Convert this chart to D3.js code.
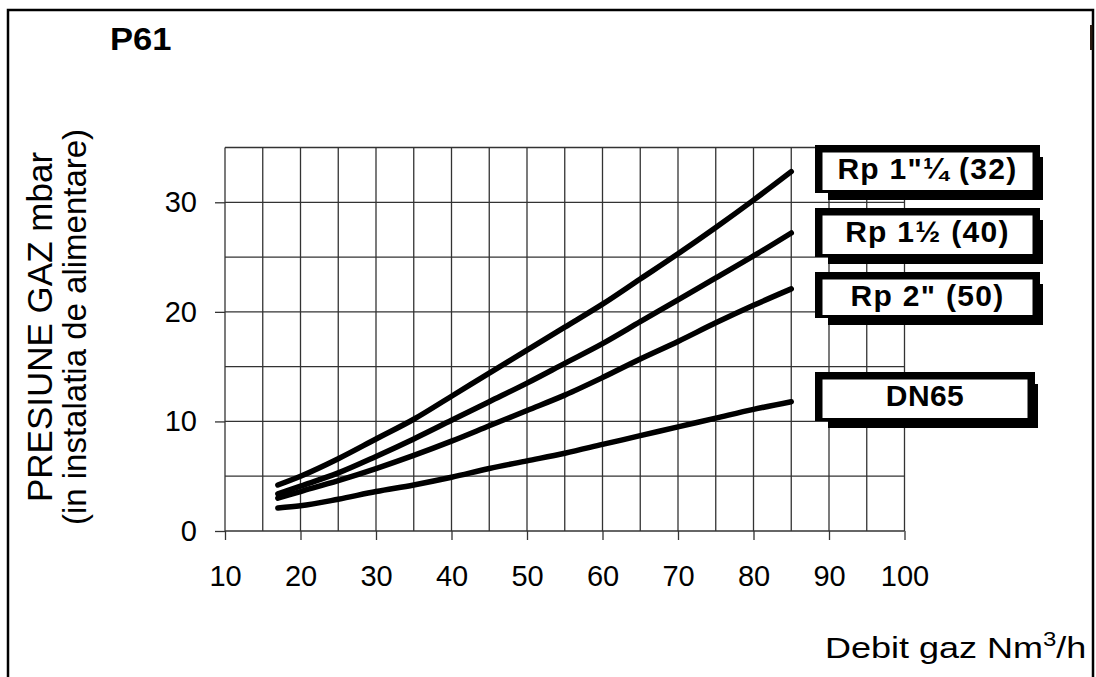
<!DOCTYPE html>
<html>
<head>
<meta charset="utf-8">
<script src="https://cdn.jsdelivr.net/npm/d3@7"></script>
<style>
  html, body { margin: 0; padding: 0; background: #fff; }
  svg { display: block; font-family: 'Liberation Sans', Arial, sans-serif; }
</style>
</head>
<body>
<svg id="chart" width="1096" height="677"></svg>
<script>
// values
const flow = [17, 20, 25, 30, 35, 40, 45, 50, 55, 60, 65, 70, 75, 80, 85];
const seriesNames = ['Rp 1"\u00BC (32)', 'Rp 1\u00BD (40)', 'Rp 2" (50)', 'DN65'];
const pRp32 = [4.2, 5.0, 6.6, 8.4, 10.2, 12.3, 14.4, 16.5, 18.6, 20.7, 23.0, 25.3, 27.7, 30.2, 32.8];
const pRp40 = [3.4, 4.1, 5.3, 6.8, 8.4, 10.1, 11.8, 13.5, 15.3, 17.1, 19.1, 21.1, 23.1, 25.1, 27.2];
const pRp50 = [3.0, 3.6, 4.6, 5.7, 6.9, 8.2, 9.6, 11.0, 12.4, 14.0, 15.7, 17.3, 19.0, 20.6, 22.1];
const pDN65 = [2.1, 2.3, 2.9, 3.6, 4.2, 4.9, 5.7, 6.4, 7.1, 7.9, 8.7, 9.5, 10.3, 11.1, 11.8];
const xTicks = [10, 20, 30, 40, 50, 60, 70, 80, 90, 100];
const yTicks = [0, 10, 20, 30];

// legend box placement (outer edge of the thick frame)
const LEGEND_BOXES = [
  { left: 815, top: 145, right: 1040, bottom: 193 },
  { left: 815, top: 208, right: 1040, bottom: 257 },
  { left: 815, top: 272, right: 1040, bottom: 318 },
  { left: 815, top: 372, right: 1035, bottom: 421 },
];
const BORDER = 7.5;

const svg = d3.select('#chart');

const x = d3.scaleLinear().domain([10, 100]).range([225, 904.5]);
const y = d3.scaleLinear().domain([0, 35]).range([531, 147.5]);

// page frame
svg.append('rect')
  .attr('x', 8).attr('y', 10)
  .attr('width', 1085).attr('height', 720)
  .attr('fill', 'none')
  .attr('stroke', '#000')
  .attr('stroke-width', 2.5);
svg.append('rect')
  .attr('x', 1090).attr('y', 25)
  .attr('width', 2.5).attr('height', 25)
  .attr('fill', '#2a1a10');

svg.append('text')
  .attr('transform', 'translate(110, 50) scale(1.08, 1)')
  .attr('font-size', 32)
  .attr('font-weight', 'bold')
  .text('P61');

// grid
let grid = svg.append('g')
  .attr('stroke', '#333')
  .attr('stroke-width', 1.3);

grid.selectAll('line.v')
  .data(d3.range(10, 101, 5))
  .enter().append('line')
    .classed('v', true)
    .attr('x1', d => x(d)).attr('x2', d => x(d))
    .attr('y1', y(0)).attr('y2', y(35));

grid.selectAll('line.h')
  .data(d3.range(0, 36, 5))
  .enter().append('line')
    .classed('h', true)
    .attr('x1', x(10)).attr('x2', x(100))
    .attr('y1', d => y(d)).attr('y2', d => y(d));

// axes
let xAxis = d3.axisBottom(x)
  .tickValues(xTicks)
  .tickSize(9)
  .tickPadding(25)
  .tickFormat(d3.format('d'));

let yAxis = d3.axisLeft(y)
  .tickValues(yTicks)
  .tickSize(10)
  .tickPadding(18)
  .tickFormat(d3.format('d'));

let gx = svg.append('g')
  .attr('transform', `translate(0, ${y(0)})`)
  .call(xAxis);
let gy = svg.append('g')
  .attr('transform', `translate(${x(10)}, 0)`)
  .call(yAxis);

[gx, gy].forEach(g => {
  g.select('.domain').remove();
  g.selectAll('.tick line').attr('stroke', '#333').attr('stroke-width', 1.3);
  g.selectAll('.tick text')
    .attr('font-family', "'Liberation Sans', Arial, sans-serif")
    .attr('font-size', 29)
    .attr('fill', '#000');
});

// axis titles
let yTitle = svg.append('text')
  .attr('transform', 'translate(52, 327) rotate(-90)')
  .attr('text-anchor', 'middle');
yTitle.append('tspan')
  .attr('x', 0).attr('y', 0)
  .attr('font-size', 35)
  .text('PRESIUNE GAZ mbar');
yTitle.append('tspan')
  .attr('x', 0).attr('y', 34)
  .attr('font-size', 33)
  .text('(in instalatia de alimentare)');

let xTitle = svg.append('text')
  .attr('transform', 'translate(825, 658) scale(1.2, 1)')
  .attr('font-size', 30);
xTitle.append('tspan').text('Debit gaz Nm');
xTitle.append('tspan').attr('font-size', 20).attr('dy', -12).text('3');
xTitle.append('tspan').attr('dy', 12).text('/h');

// curves
let series = [pRp32, pRp40, pRp50, pDN65].map((vals, i) => ({
  name: seriesNames[i],
  points: flow.map((f, j) => [f, vals[j]]),
}));

let line = d3.line()
  .x(d => x(d[0]))
  .y(d => y(d[1]))
  .curve(d3.curveMonotoneX);

svg.append('g').selectAll('path.curve')
  .data(series)
  .enter().append('path')
    .classed('curve', true)
    .attr('d', d => line(d.points))
    .attr('fill', 'none')
    .attr('stroke', '#000')
    .attr('stroke-width', 5.5)
    .attr('stroke-linecap', 'round')
    .attr('stroke-linejoin', 'round');

// legend boxes with drop shadow
let boxes = svg.append('g').selectAll('g.legend')
  .data(series)
  .enter().append('g')
    .classed('legend', true);

boxes.append('rect')
  .attr('x', (d, i) => LEGEND_BOXES[i].left + 13)
  .attr('y', (d, i) => LEGEND_BOXES[i].top + 12)
  .attr('width', (d, i) => LEGEND_BOXES[i].right - LEGEND_BOXES[i].left - 10)
  .attr('height', (d, i) => LEGEND_BOXES[i].bottom - LEGEND_BOXES[i].top - 5)
  .attr('fill', '#000');

boxes.append('rect')
  .attr('x', (d, i) => LEGEND_BOXES[i].left)
  .attr('y', (d, i) => LEGEND_BOXES[i].top)
  .attr('width', (d, i) => LEGEND_BOXES[i].right - LEGEND_BOXES[i].left)
  .attr('height', (d, i) => LEGEND_BOXES[i].bottom - LEGEND_BOXES[i].top)
  .attr('fill', '#000');

boxes.append('rect')
  .attr('x', (d, i) => LEGEND_BOXES[i].left + BORDER)
  .attr('y', (d, i) => LEGEND_BOXES[i].top + BORDER)
  .attr('width', (d, i) => LEGEND_BOXES[i].right - LEGEND_BOXES[i].left - 2 * BORDER)
  .attr('height', (d, i) => LEGEND_BOXES[i].bottom - LEGEND_BOXES[i].top - BORDER - 3)
  .attr('fill', '#fff');

boxes.append('text')
  .attr('x', (d, i) => (LEGEND_BOXES[i].left + LEGEND_BOXES[i].right) / 2)
  .attr('y', (d, i) => LEGEND_BOXES[i].top + 34)
  .attr('text-anchor', 'middle')
  .attr('font-size', 30)
  .attr('font-weight', 'bold')
  .attr('letter-spacing', (d, i) => (i === 3 ? 0.4 : 1.3))
  .text(d => d.name);
</script>
</body>
</html>
